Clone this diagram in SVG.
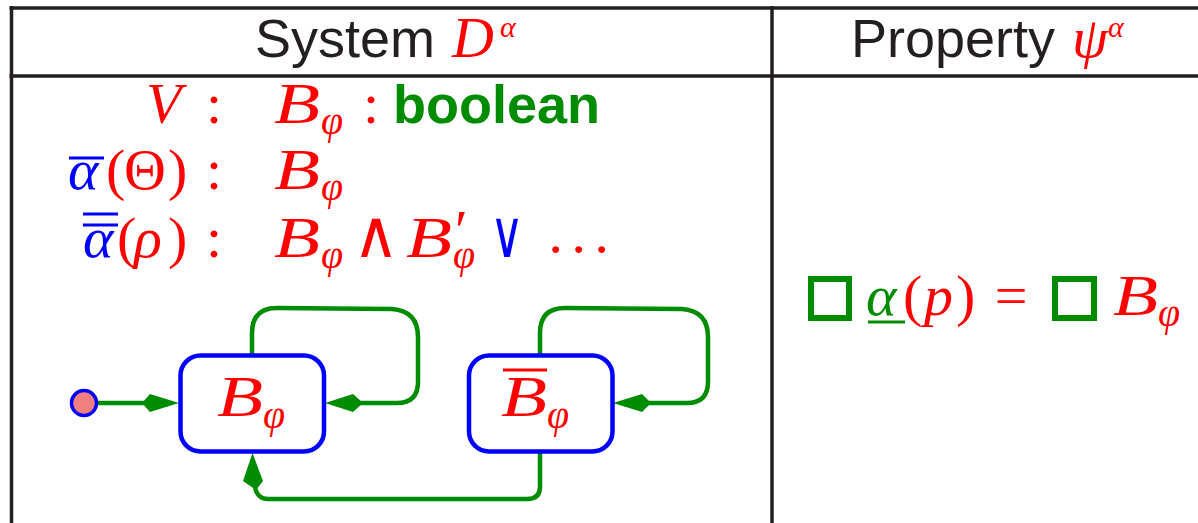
<svg xmlns="http://www.w3.org/2000/svg" width="1198" height="523" viewBox="0 0 1198 523">
<style>
.grid{stroke:#231f20;stroke-width:3.5;fill:none}
.hdr{font-family:"Liberation Sans",Arial,sans-serif;font-size:54px;fill:#231f20}
.m{font-family:"Liberation Serif","DejaVu Serif",serif;font-style:italic;font-size:58px}
.r{font-family:"Liberation Serif","DejaVu Serif",serif;font-size:58px}
.op{font-family:"DejaVu Sans",sans-serif;font-size:66px}
.sub{font-family:"Liberation Serif","DejaVu Serif",serif;font-style:italic;font-size:40px}
.sup{font-family:"Liberation Serif","DejaVu Serif",serif;font-style:italic;font-size:30px}
.red{fill:#ff0000}
.blue{fill:#0000ff}
.green{fill:#008c00}
.state{fill:#ffffff;stroke:#0000ff;stroke-width:4.5}
.edge{fill:none;stroke:#008c00;stroke-width:4.5}
.head{fill:#008c00;stroke:none}
.box{fill:none;stroke:#008c00;stroke-width:6}
</style>
<g id="table">
<line class="grid" x1="9.5" y1="8" x2="1198" y2="8"/>
<line class="grid" x1="9.5" y1="76" x2="1198" y2="76"/>
<line class="grid" x1="11.5" y1="6" x2="11.5" y2="523"/>
<line class="grid" x1="772" y1="6" x2="772" y2="523"/>
</g>
<g id="header-system">
<text class="hdr" x="255" y="57">System</text>
<text class="m red" x="452" y="57" font-size="56">D</text>
<text class="sup red" x="500" y="37">α</text>
</g>
<g id="header-property">
<text class="hdr" x="851" y="57">Property</text>
<text class="m red" x="1072" y="57" font-size="54">ψ</text>
<text class="sup red" x="1108" y="37">α</text>
</g>
<g id="row-v">
<text class="m red" x="146" y="123">V</text>
<text class="r red" x="206" y="123">:</text>
<text class="m red" x="274" y="123" font-size="60" textLength="46" lengthAdjust="spacingAndGlyphs">B</text>
<text class="sub red" x="321" y="134">φ</text>
<text class="r red" x="363" y="123">:</text>
<text x="393" y="123" font-family="Liberation Sans,Arial,sans-serif" font-weight="bold" font-size="54" class="green">boolean</text>
</g>
<g id="row-theta">
<line x1="69" y1="158" x2="104" y2="158" stroke="#0000ff" stroke-width="3"/>
<text class="m blue" x="68" y="189">α</text>
<text class="r red" x="106" y="189">(</text>
<text class="r red" x="124" y="189">Θ</text>
<text class="r red" x="168" y="189">)</text>
<text class="r red" x="206" y="189">:</text>
<text class="m red" x="274" y="189" font-size="60" textLength="46" lengthAdjust="spacingAndGlyphs">B</text>
<text class="sub red" x="321" y="200">φ</text>
</g>
<g id="row-rho">
<line x1="83" y1="214" x2="118" y2="214" stroke="#0000ff" stroke-width="3"/>
<line x1="83" y1="225" x2="118" y2="225" stroke="#0000ff" stroke-width="3"/>
<text class="m blue" x="83" y="257">α</text>
<text class="r red" x="117" y="257">(</text>
<text class="m red" x="134" y="257">ρ</text>
<text class="r red" x="168" y="257">)</text>
<text class="r red" x="206" y="257">:</text>
<text class="m red" x="274" y="257" font-size="60" textLength="46" lengthAdjust="spacingAndGlyphs">B</text>
<text class="sub red" x="321" y="268">φ</text>
<text class="op red" x="353" y="257" textLength="46" lengthAdjust="spacingAndGlyphs">∧</text>
<text class="m red" x="406" y="257" font-size="60" textLength="46" lengthAdjust="spacingAndGlyphs">B</text>
<text class="r red" x="455" y="250" font-size="46">′</text>
<text class="sub red" x="453" y="268">φ</text>
<text class="op blue" x="490" y="257" textLength="34" lengthAdjust="spacingAndGlyphs">∨</text>
<text class="r red" x="546" y="269" font-size="70">·</text>
<text class="r red" x="569" y="269" font-size="70">·</text>
<text class="r red" x="592" y="269" font-size="70">·</text>
</g>
<g id="property-formula">
<rect class="box" x="811" y="279" width="38" height="39"/>
<text class="m green" x="866" y="315" font-size="56">α</text>
<line x1="868" y1="322" x2="905" y2="322" stroke="#008c00" stroke-width="3"/>
<text class="r red" x="903" y="315" font-size="56">(</text>
<text class="m red" x="924" y="315" font-size="58">p</text>
<text class="r red" x="956" y="315" font-size="56">)</text>
<text class="r red" x="1011" y="315" font-size="56" text-anchor="middle">=</text>
<rect class="box" x="1055" y="279" width="39" height="39"/>
<text class="m red" x="1113" y="315" font-size="58" textLength="45" lengthAdjust="spacingAndGlyphs">B</text>
<text class="sub red" x="1158" y="326">φ</text>
</g>
<g id="connectors">
<line class="edge" x1="97" y1="403" x2="146" y2="403"/>
<polygon class="head" points="142,403 150,394 179,403 150,412"/>
<path class="edge" d="M252,355 L252,333 Q252,308 277,308 L392,309 Q418,311 418,337 L418,382 Q418,403 397,403 L360,403"/>
<polygon class="head" points="325,403 353,394 363,403 353,412"/>
<path class="edge" d="M540,355 L540,333 Q540,308 565,308 L682,309 Q708,311 708,337 L708,382 Q708,403 687,403 L648,403"/>
<polygon class="head" points="613,403 642,394 651,403 642,412"/>
<path class="edge" d="M540,452 L540,487 Q540,499 527,499 L268,499 Q258,499 255,488"/>
<polygon class="head" points="252.5,453 263,481 256,490 243,481"/>
</g>
<g id="init">
<circle cx="84" cy="403" r="12.5" fill="#f08080" stroke="#0000ff" stroke-width="3.5"/>
</g>
<g id="state-b">
<rect class="state" x="180.5" y="355.5" width="143.5" height="96" rx="20"/>
<text class="m red" x="217" y="416" font-size="60" textLength="46" lengthAdjust="spacingAndGlyphs">B</text>
<text class="sub red" x="263" y="428">φ</text>
</g>
<g id="state-notb">
<rect class="state" x="469" y="355.5" width="143.5" height="96" rx="20"/>
<line x1="503" y1="370" x2="547" y2="370" stroke="#ff0000" stroke-width="3"/>
<text class="m red" x="501" y="416" font-size="60" textLength="46" lengthAdjust="spacingAndGlyphs">B</text>
<text class="sub red" x="547" y="428">φ</text>
</g>
</svg>
